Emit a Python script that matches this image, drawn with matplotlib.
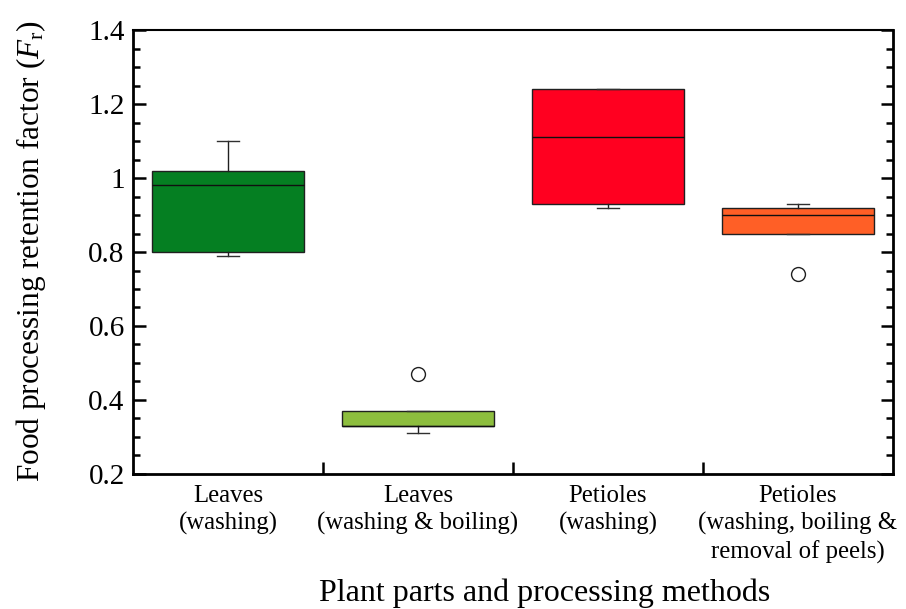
import numpy as np
import matplotlib.pyplot as plt
from matplotlib.ticker import MultipleLocator, FixedLocator

plt.rcParams['font.family'] = ['Liberation Serif', 'DejaVu Serif']
plt.rcParams['mathtext.fontset'] = 'custom'
plt.rcParams['mathtext.rm'] = 'Liberation Serif'
plt.rcParams['mathtext.it'] = 'Liberation Serif:italic'

# box statistics
labels = ['Leaves\n(washing)', 'Leaves\n(washing & boiling)',
          'Petioles\n(washing)', 'Petioles\n(washing, boiling &\nremoval of peels)']
whislo = [0.79, 0.31, 0.92, 0.85]
q1 = [0.80, 0.33, 0.93, 0.85]
med = [0.98, 0.33, 1.11, 0.90]
q3 = [1.02, 0.37, 1.24, 0.92]
whishi = [1.10, 0.37, 1.24, 0.93]
fliers = [[], [0.47], [], [0.74]]
colors = ['#057F22', '#8DBE3E', '#FF0020', '#FF5F26']

stats = []
for i in range(len(labels)):
    stats.append(dict(label=labels[i], whislo=whislo[i], q1=q1[i], med=med[i],
                      q3=q3[i], whishi=whishi[i], fliers=fliers[i]))

fig = plt.figure(figsize=(9.06, 6.09), dpi=100)
ax = fig.add_axes([0.1468, 0.2217, 0.8389, 0.729])

bp = ax.bxp(stats, positions=np.arange(1, 5), widths=0.8, patch_artist=True,
            capwidths=0.116,
            boxprops=dict(edgecolor='#202020', linewidth=1.0),
            medianprops=dict(color='#101010', linewidth=1.0),
            whiskerprops=dict(color='#202020', linewidth=1.0),
            capprops=dict(color='#303030', linewidth=1.0),
            flierprops=dict(marker='o', markerfacecolor='white',
                            markeredgecolor='#202020', markersize=10,
                            markeredgewidth=1.0))
for patch, c in zip(bp['boxes'], colors):
    patch.set_facecolor(c)

ax.set_xlim(0.5, 4.5)
ax.set_ylim(0.2, 1.4)

ax.yaxis.set_minor_locator(MultipleLocator(0.05))
ax.set_yticks([0.2, 0.4, 0.6, 0.8, 1.0, 1.2, 1.4])
ax.set_yticklabels(['0.2', '0.4', '0.6', '0.8', '1', '1.2', '1.4'])
ax.tick_params(axis='y', which='major', direction='in', length=9, width=1.8,
               left=True, right=True, labelsize=21, pad=6)
ax.tick_params(axis='y', which='minor', direction='in', length=5, width=1.8,
               left=True, right=True)

ax.xaxis.set_minor_locator(FixedLocator([1.5, 2.5, 3.5]))
ax.tick_params(axis='x', which='major', length=0, labelsize=17.8, pad=8)
ax.tick_params(axis='x', which='minor', direction='in', length=9, width=1.8,
               top=False)
for t in ax.get_xticklabels():
    t.set_linespacing(1.3)

for side in ['left', 'bottom', 'right']:
    ax.spines[side].set_linewidth(2.0)
ax.spines['top'].set_linewidth(1.5)

ax.set_xlabel('Plant parts and processing methods', fontsize=23)
ax.xaxis.set_label_coords(0.541, -0.236)
ax.set_ylabel('Food processing retention factor ($F_{\\mathrm{r}}$)', fontsize=22.5)
ax.yaxis.set_label_coords(-0.112, 0.502)

fig.savefig('out.png', dpi=100)
